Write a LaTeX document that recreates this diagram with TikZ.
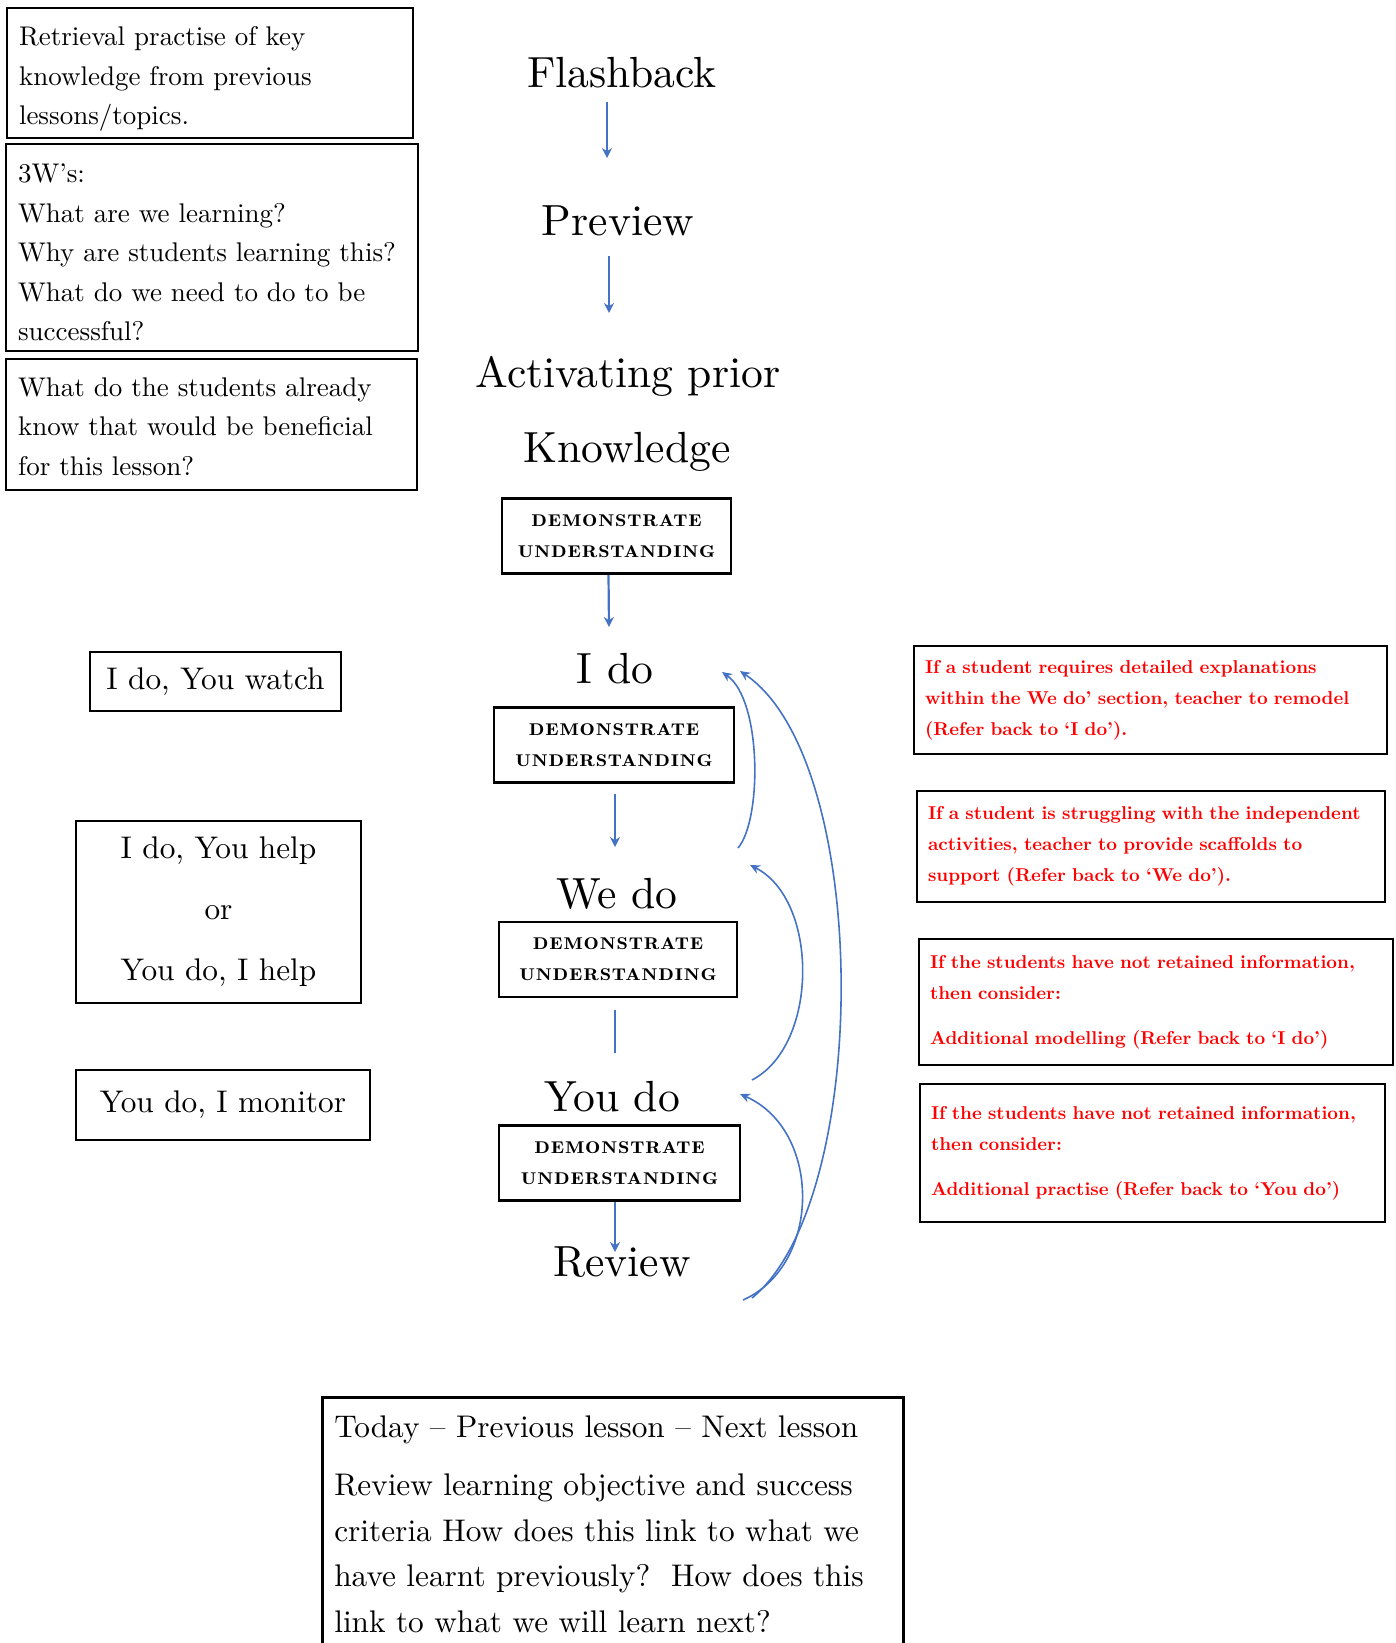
\documentclass[tikz,border=0pt]{standalone}
\usepackage{fontspec}
\setmainfont{lmroman10-regular.otf}[BoldFont=lmroman10-bold.otf]
\newfontfamily\capsfont{lmromandemi10-regular.otf}[FakeStretch=1.2,LetterSpace=5]
\usetikzlibrary{arrows.meta,positioning,calc}
\definecolor{arrblue}{HTML}{4472C4}
\definecolor{hintred}{HTML}{FF0000}

\begin{document}
\begin{tikzpicture}[x=1pt,y=-1pt,
  box/.style={draw,line width=2.6pt,inner xsep=12pt,align=left,font=\fontsize{27}{39.5}\selectfont},
  note/.style={draw,line width=2.6pt,align=center,font=\fontsize{31.3}{61}\selectfont},
  stagelbl/.style={inner sep=0pt,anchor=base,font=\fontsize{43.6}{50}\selectfont},
  dem/.style={draw,line width=2.6pt,align=center,minimum height=75pt,font=\capsfont\fontsize{17}{31}\selectfont},
  hint/.style={draw,line width=2.6pt,inner xsep=11pt,align=left,text=hintred,font=\fontsize{18.6}{31}\selectfont\bfseries},
  arr/.style={-{Stealth[length=10pt,width=10pt]},line width=2.2pt,color=arrblue},
  back/.style={-{Stealth[length=10pt,width=9pt]},line width=1.6pt,color=arrblue}]
\useasboundingbox (0,0) rectangle (1396,1643);

% left column: what each stage means
\node[box,text width=382pt,minimum height=130pt] (recall) at (210,73) {\rule{0pt}{31pt}Retrieval practise of key\\knowledge from previous\\lessons/topics.};
\node[box,text width=388pt,minimum height=207pt] (threew) at (212,247.5) {\rule{0pt}{29pt}3W’s:\\What are we learning?\\Why are students learning this?\\What do we need to do to be\\successful?};
\node[box,text width=387pt,minimum height=131pt] (prior) at (211.5,424.5) {\rule{0pt}{22.7pt}What do the students already\\know that would be beneficial\\for this lesson?};
\node[note,minimum width=251pt,minimum height=59pt] (watch) at (215.5,681.5) {I do, You watch};
\node[note,minimum width=285pt,minimum height=182pt] (help) at (218.5,912) {I do, You help\\or\\You do, I help};
\node[note,minimum width=294pt,minimum height=70pt] (monitor) at (223,1105) {You do, I monitor};

% centre column: the lesson sequence
\node[stagelbl] (flash) at (622,88) {Flashback};
\node[stagelbl] (prev) at (618,235) {Preview};
\node[stagelbl] (act) at (628,387) {Activating prior};
\node[stagelbl] (know) at (627,462) {Knowledge};
\node[dem,minimum width=229pt] (du1) at (616.5,536) {DEMONSTRATE\\UNDERSTANDING};
\node[stagelbl] (ido) at (615,683) {I do};
\node[dem,minimum width=240pt] (du2) at (614,745) {DEMONSTRATE\\UNDERSTANDING};
\node[stagelbl] (wedo) at (617,908) {We do};
\node[dem,minimum width=238pt] (du3) at (618,959.5) {DEMONSTRATE\\UNDERSTANDING};
\node[stagelbl] (youdo) at (612,1111) {You do};
\node[dem,minimum width=241pt] (du4) at (619.5,1163) {DEMONSTRATE\\UNDERSTANDING};
\node[stagelbl] (review) at (622,1276) {Review};

% right column: when to go back
\node[hint,text width=451pt,minimum height=108pt] (remodel) at (1150.5,700) {If a student requires detailed explanations\\within the We do’ section, teacher to remodel\\(Refer back to ‘I do’).};
\node[hint,text width=446pt,minimum height=111pt] (scaffold) at (1151,846.5) {If a student is struggling with the independent\\activities, teacher to provide scaffolds to\\support (Refer back to ‘We do’).};
\node[hint,text width=452pt,minimum height=126pt] (model) at (1156,1002) {If the students have not retained information,\\then consider:\\[14pt]Additional modelling (Refer back to ‘I do’)};
\node[hint,text width=443pt,minimum height=138pt] (practise) at (1152.5,1153) {If the students have not retained information,\\then consider:\\[14pt]Additional practise (Refer back to ‘You do’)};

% review box, cut off by the page
\node[box,anchor=north west,text width=557pt,inner xsep=12pt,inner ysep=18pt,font=\fontsize{31.3}{45.5}\selectfont] (recap) at (321,1396) {Today – Previous lesson – Next lesson\\[13pt]Review learning objective and success\\criteria How does this link to what we\\have learnt previously?\ \ How does this\\link to what we will learn next?};

\draw[arr] ($(flash.base)+(-15,14)$) -- ($(prev.base)+(-11,-77)$);
\draw[arr] ($(prev.base)+(-9,21)$) -- ($(act.base)+(-19,-74)$);
\draw[arr] ($(du1.south)+(-8,0)$) -- ($(ido.base)+(-6,-56)$);
\draw[arr] ($(du2.south)+(1,10)$) -- ($(wedo.base)+(-2,-61)$);
\draw[line width=2.2pt,arrblue] ($(du3.south)+(-3,12)$) -- ($(youdo.base)+(3,-58)$);
\draw[arr] ($(du4.south)+(-4.5,0)$) -- ($(review.base)+(-7,-24)$);

% loops back up
\draw[back] ($(wedo.base)+(121,-60)$) .. controls +(24,-28) and +(40,28) .. ($(ido.base)+(107,-11)$);
\draw[back] ($(youdo.base)+(140,-31)$) .. controls +(67,-35) and +(69,35) .. ($(wedo.base)+(133,-43)$);
\draw[back] ($(review.base)+(121,24)$) .. controls +(79,-35) and +(82,36) .. ($(youdo.base)+(128,-17)$);
\draw[back] ($(review.base)+(130,22)$) .. controls +(120,-98) and +(132,89) .. ($(ido.base)+(125,-12)$);
\end{tikzpicture}
\end{document}
